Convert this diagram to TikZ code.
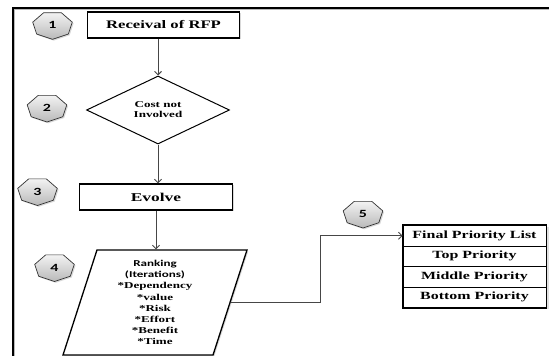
\documentclass[tikz,border=0pt]{standalone}
\usepackage{fontspec}
\setmainfont{Liberation Serif}
\newfontfamily\tfont[FakeStretch=1.45]{Liberation Serif}
\newfontfamily\cfont[FakeStretch=1.45]{Carlito}
\newfontfamily\hfont{Carlito}
\usetikzlibrary{shapes.geometric,shadows,arrows.meta}
\begin{document}
\begin{tikzpicture}[x=1pt,y=-1pt,
  shadowed/.style={drop shadow={opacity=0.3,shadow xshift=1.3pt,shadow yshift=-1.3pt}},
  box/.style={draw=black, line width=1.3pt, fill=white, inner sep=0pt, shadowed,
    font=\tfont\bfseries\fontsize{11.5}{13}\selectfont},
  dia/.style={diamond, draw=black, line width=1pt, fill=white, inner sep=0pt, align=center,
    font=\tfont\bfseries\fontsize{9}{10}\selectfont},
  para/.style={trapezium, trapezium left angle=68, trapezium right angle=112,
    trapezium stretches body, draw=black, line width=1.3pt, fill=white, inner sep=0pt,
    align=center, shadowed, font=\tfont\bfseries\fontsize{9}{11.1}\selectfont},
  hep/.style={regular polygon, regular polygon sides=7, shape border rotate=180,
    minimum size=28pt, inner sep=0pt, xscale=1.45, transform shape,
    draw=gray!40!black, line width=0.7pt, top color=gray!10, bottom color=gray!55,
    shadowed, font=\hfont\bfseries\fontsize{11}{12}\selectfont},
  row/.style={draw=black, line width=0.8pt, minimum width=143pt, minimum height=20.5pt,
    inner sep=0pt, font=\tfont\bfseries\fontsize{11}{12}\selectfont},
  arr/.style={draw=gray!55!black, line width=0.9pt, -{Straight Barb[length=3.5pt,width=7pt]}}
]
\useasboundingbox (0,0) rectangle (549,356);
% frame
\draw[gray!55, line width=1.2pt] (14.8,360) -- (14.8,9.8) -- (560,9.8);
\draw[black, line width=2.2pt] (13,360) -- (13,8) -- (560,8);

% nodes
\node[box, minimum width=152pt, minimum height=26pt] (b1) at (163.5,25) {Receival of RFP};
\node[dia, minimum width=143pt, minimum height=68pt] (d) at (158,110) {Cost not\\Involved};
\node[box, minimum width=153pt, minimum height=26pt, font=\tfont\bfseries\fontsize{12}{13}\selectfont] (ev) at (156,197) {Evolve};
\node[para, minimum width=184pt, minimum height=105pt] (rk) at (155,302.5)
  {{\cfont Ranking}\\{\cfont (Iterations)}\\*Dependency\\*value\\*Risk\\*Effort\\*Benefit\\*Time};

% table
\fill[gray!40, opacity=0.6] (405,227) rectangle (548.5,309);
\node[row, fill=white] (r1) at (474.5,235.75) {Final Priority List};
\node[row, fill=white] (r2) at (474.5,256.25) {Top Priority};
\node[row, fill=white] (r3) at (474.5,276.75) {Middle Priority};
\node[row, fill=white] (r4) at (474.5,297.25) {Bottom Priority};
\draw[black, line width=1.5pt] (r1.north west) rectangle (r4.south east);

% heptagons
\node[hep] (h1) at (52.5,25.3) {1};
\node[hep] (h2) at (47,108) {2};
\node[hep] (h3) at (37.5,191.5) {3};
\node[hep] (h4) at (54.5,267.5) {4};
\node[hep] (h5) at (363,214) {5};

% connectors
\draw[arr] (b1.south -| d.north) -- (d.north);
\draw[arr] (d.south) -- (d.south |- ev.north);
\draw[arr] (ev.south) -- (ev.south |- rk.north);
\draw[arr] (rk.east) -- ++(90,0) |- (r1.west);
\end{tikzpicture}
\end{document}
